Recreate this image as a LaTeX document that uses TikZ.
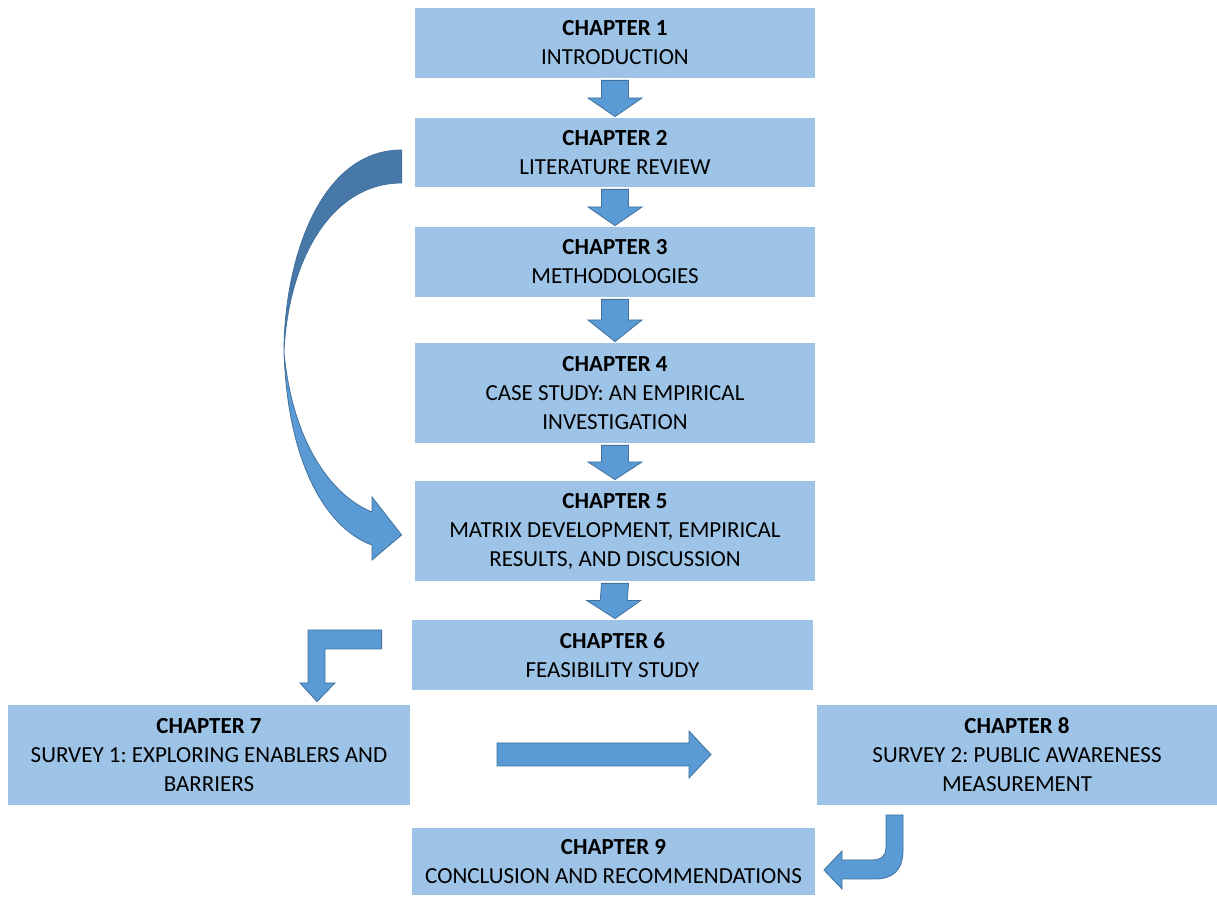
\documentclass[tikz,border=0pt]{standalone}
\usepackage{fontspec}
\setmainfont{Carlito}
\usetikzlibrary{calc}
\frenchspacing

\definecolor{boxblue}{HTML}{9DC3E6}
\definecolor{arrowblue}{HTML}{5B9BD5}
\definecolor{arrowedge}{HTML}{41719C}
\definecolor{arrowdark}{HTML}{4878A8}

\tikzset{
  chapbox/.style={fill=boxblue, minimum width=200pt, minimum height=35pt, align=center, inner sep=0pt, font=\fontsize{11.5}{14.5}\selectfont},
  tallbox/.style={chapbox, minimum height=50pt},
  blockarrow/.style={fill=arrowblue, draw=arrowedge, line width=0.4pt, line join=miter}
}

\newcommand{\blockdown}[2]{%
  \filldraw [blockarrow] ($(#1.south)+(-13.5,2)$) -- ($(#1.south)+(13.5,2)$) -- ($(#1.south)!0.5!(#2.south|-#2.north)+(13.5,0)$) -- ($(#1.south)!0.5!(#2.south|-#2.north)+(27,0)$) -- ($(#1.south|-#2.north)+(0,-1)$) -- ($(#1.south)!0.5!(#2.south|-#2.north)+(-27,0)$) -- ($(#1.south)!0.5!(#2.south|-#2.north)+(-13.5,0)$) -- cycle;}

\begin{document}
\begin{tikzpicture}[x=0.5pt,y=-0.5pt]

\useasboundingbox (0,0) rectangle (1217,897);

\node [chapbox] (ch1) at (615,43) {\textbf{CHAPTER 1}\\INTRODUCTION};
\node [chapbox, minimum height=34.5pt] (ch2) at (615,152.5) {\textbf{CHAPTER 2}\\LITERATURE REVIEW};
\node [chapbox] (ch3) at (615,262) {\textbf{CHAPTER 3}\\METHODOLOGIES};
\node [tallbox] (ch4) at (615,393) {\textbf{CHAPTER 4}\\CASE STUDY: AN EMPIRICAL\\INVESTIGATION};
\node [tallbox] (ch5) at (615,531) {\textbf{CHAPTER 5}\\MATRIX DEVELOPMENT, EMPIRICAL\\RESULTS, AND DISCUSSION};
\node [chapbox, minimum width=200.5pt] (ch6) at (612.5,655) {\textbf{CHAPTER 6}\\FEASIBILITY STUDY};
\node [tallbox, minimum width=201pt] (ch7) at (209,755) {\textbf{CHAPTER 7}\\SURVEY 1: EXPLORING ENABLERS AND\\BARRIERS};
\node [tallbox] (ch8) at (1017,755) {\textbf{CHAPTER 8}\\SURVEY 2: PUBLIC AWARENESS\\MEASUREMENT};
\node [chapbox, minimum width=201.5pt, minimum height=33.5pt] (ch9) at (613.5,861.5) {\textbf{CHAPTER 9}\\CONCLUSION AND RECOMMENDATIONS};

\blockdown{ch1}{ch2}
\blockdown{ch2}{ch3}
\blockdown{ch3}{ch4}
\blockdown{ch4}{ch5}
\blockdown{ch5}{ch6}

% curved arrow, chapter 2 to chapter 5
\coordinate (bend) at (284,352);
\filldraw [fill=arrowdark, draw=arrowedge, line width=0.4pt] ($(ch2.west)+(-13,-2.5)$) .. controls (320,150) and (284,260) .. (bend) .. controls (288,262) and (330,183) .. ($(ch2.west)+(-13,30.5)$) -- cycle;
\filldraw [blockarrow] (bend) .. controls (288,470) and (330,530) .. (372,545) -- (372,560) -- ($(ch5.west)+(-13,4)$) -- (372,497) -- (372,512) .. controls (330,495) and (292,440) .. (bend) -- cycle;

% bent arrow, chapter 6 to chapter 7
\filldraw [blockarrow] ($(ch6.west)+(-30,-25)$) -- (308,630) -- (308,683) -- (300,683) -- ($(ch7.north)+(108,-3)$) -- (335,683) -- (325,683) -- (325,649) -- ($(ch6.west)+(-30,-6)$) -- cycle;

% chapter 7 to chapter 8
\filldraw [blockarrow] (497,743) -- (689,743) -- (689,731) -- (711,754.5) -- (689,778) -- (689,766) -- (497,766) -- cycle;

% u-turn, chapter 8 to chapter 9
\filldraw [blockarrow] (886,815) -- (903,815) -- (903,850) .. controls (903,870) and (893,879) .. (875,879) -- (842,879) -- (842,889) -- ($(ch9.east)+(8.5,8.5)$) -- (842,851) -- (842,860) -- (872,860) .. controls (882,860) and (886,855) .. (886,848) -- cycle;

\end{tikzpicture}
\end{document}
